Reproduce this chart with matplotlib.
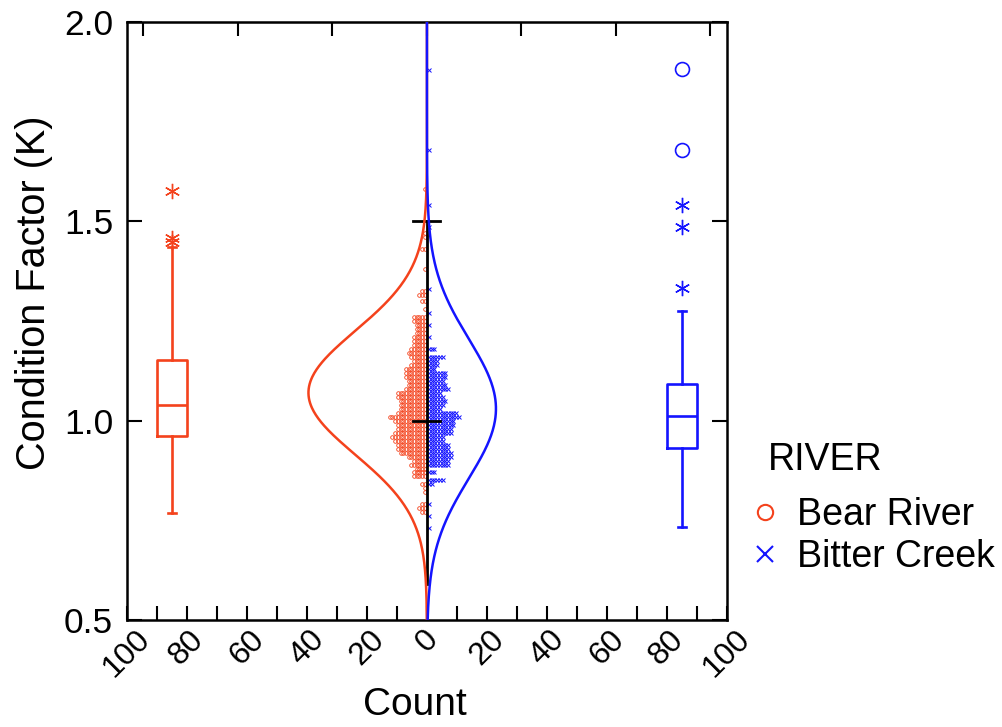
import numpy as np
import matplotlib.pyplot as plt
from matplotlib.lines import Line2D

plt.rcParams['font.family'] = ['Liberation Sans', 'DejaVu Sans']

RED = '#f4421c'
BLUE = '#1414ff'

# dot histogram rows: condition factor (K) and number of fish in that row
bear_k = [1.58, 1.47, 1.46, 1.43, 1.38, 1.325, 1.315, 1.30, 1.28, 1.26, 1.25, 1.24,
          1.23, 1.22, 1.21, 1.20, 1.19, 1.18, 1.17, 1.16, 1.15, 1.14, 1.13, 1.12,
          1.11, 1.10, 1.09, 1.08, 1.07, 1.06, 1.05, 1.04, 1.03, 1.02, 1.01, 1.00,
          0.99, 0.98, 0.97, 0.96, 0.95, 0.94, 0.93, 0.92, 0.91, 0.90, 0.89, 0.88,
          0.87, 0.86, 0.84, 0.83, 0.82, 0.79, 0.78, 0.77]
bear_n = [1, 1, 1, 2, 1, 2, 3, 2, 1, 5, 5, 4,
          4, 4, 5, 5, 5, 6, 7, 6, 5, 6, 8, 8,
          8, 7, 7, 8, 11, 11, 10, 10, 10, 11, 14, 12,
          11, 11, 12, 13, 12, 11, 11, 10, 7, 5, 6, 4,
          5, 5, 2, 1, 1, 2, 3, 2]

bitter_k = [1.88, 1.68, 1.54, 1.485, 1.33, 1.27, 1.24, 1.21, 1.18, 1.16, 1.15, 1.14,
            1.13, 1.12, 1.11, 1.10, 1.09, 1.08, 1.07, 1.06, 1.05, 1.04, 1.03, 1.02,
            1.01, 1.00, 0.99, 0.98, 0.97, 0.96, 0.95, 0.94, 0.93, 0.92, 0.91, 0.90,
            0.89, 0.87, 0.85, 0.84, 0.79, 0.76, 0.73]
bitter_n = [1, 1, 1, 1, 1, 1, 1, 1, 3, 6, 4, 4,
            3, 7, 7, 6, 7, 8, 5, 6, 7, 6, 5, 11,
            12, 10, 10, 9, 9, 6, 6, 8, 8, 9, 9, 8,
            8, 3, 6, 2, 1, 1, 1]

# fitted normal curves: mean, sd, peak count
bear_fit = (1.07, 0.155, 39.5)
bitter_fit = (1.03, 0.175, 23.0)

# box plot summaries
bear_box = dict(med=1.039, q1=0.962, q3=1.152, whislo=0.768, whishi=1.436,
                fliers=[1.448, 1.458, 1.576])
bitter_box = dict(med=1.012, q1=0.932, q3=1.092, whislo=0.733, whishi=1.275,
                  fliers=[1.333, 1.486, 1.541])
bitter_far = [1.679, 1.882]
box_pos = [-85, 85]

count_ticks = np.arange(-100, 101, 20)
count_minor = np.arange(-90, 91, 10)
top_ticks = [-94.5, -63, -31.5, 0, 31.5, 63, 94.5]
k_ticks = [0.5, 1.0, 1.5, 2.0]

fig = plt.figure(figsize=(10.02, 7.27), dpi=100)
ax = fig.add_axes([0.1267, 0.1472, 0.5988, 0.8225])

# dots
for ks, ns, sign, col, mk in [(bear_k, bear_n, -1, RED, 'o'), (bitter_k, bitter_n, 1, BLUE, 'x')]:
    xs, ys = [], []
    for k, n in zip(ks, ns):
        for j in range(n):
            xs.append(sign * (0.7 + 0.9 * j))
            ys.append(k)
    if mk == 'o':
        ax.plot(xs, ys, 'o', ms=2.6, mfc='none', mec=col, mew=0.6, zorder=2)
    else:
        ax.plot(xs, ys, 'x', ms=2.6, color=col, mew=0.7, zorder=2)

# center axis
ax.plot([0, 0], [0.59, 1.5], color='black', lw=2, zorder=3)
for k in [1.0, 1.5]:
    ax.plot([-4.5, 4.5], [k, k], color='black', lw=2, zorder=3)

# normal curves
yy = np.linspace(0.5, 2.0, 500)


def normal_curve(mu, sd, peak):
    return peak * np.exp(-0.5 * ((yy - mu) / sd) ** 2)


ax.plot(-normal_curve(*bear_fit), yy, color=RED, lw=1.8, zorder=4)
ax.plot(normal_curve(*bitter_fit), yy, color=BLUE, lw=1.8, zorder=5)

# box plots
for st, pos, col in [(bear_box, box_pos[0], RED), (bitter_box, box_pos[1], BLUE)]:
    lp = dict(color=col, lw=1.9)
    ax.bxp([st], positions=[pos], widths=10, capwidths=2.4, manage_ticks=False,
           boxprops=lp, whiskerprops=lp, capprops=lp, medianprops=lp,
           flierprops=dict(marker=(6, 2, 0), markeredgecolor=col, markersize=11,
                           markeredgewidth=1.0, linestyle='none'))
ax.plot([box_pos[1]] * len(bitter_far), bitter_far, 'o', ms=10, mfc='none',
        mec=BLUE, mew=1.2)

ax.set_xlim(-100, 100)
ax.set_ylim(0.5, 2.0)
ax.set_xticks(count_ticks)
ax.set_xticklabels([str(abs(int(v))) for v in count_ticks], rotation=45, fontsize=23)
ax.set_xticks(count_minor, minor=True)
ax.set_yticks(k_ticks)
ax.set_yticklabels(['%.1f' % v for v in k_ticks], fontsize=25.5)
ax.tick_params(axis='x', which='both', direction='in', length=10, width=1.5, pad=3)
ax.tick_params(axis='y', direction='in', length=11, width=1.5, right=True, pad=10)
for s in ax.spines.values():
    s.set_linewidth(1.8)

top = ax.secondary_xaxis('top')
top.set_xticks(top_ticks)
top.set_xticklabels([])
top.tick_params(direction='in', length=10, width=1.5)

ax.set_xlabel('Count', fontsize=28)
ax.xaxis.set_label_coords(0.48, -0.112)
ax.set_ylabel('Condition Factor (K)', fontsize=28.5)
ax.yaxis.set_label_coords(-0.123, 0.548)

fig.text(768 / 1002, 1 - 460 / 727, 'RIVER', fontsize=27, va='center', ha='left')
handles = [Line2D([], [], ls='none', marker='o', mfc='none', mec=RED, ms=11, mew=1.5,
                  label='Bear River'),
           Line2D([], [], ls='none', marker='x', color=BLUE, ms=11, mew=1.5,
                  label='Bitter Creek')]
fig.legend(handles=handles, loc='upper left', bbox_to_anchor=(750 / 1002, 1 - 497 / 727),
           frameon=False, fontsize=27, handlelength=0.8, handletextpad=0.45,
           labelspacing=0.15, borderpad=0, borderaxespad=0)

fig.savefig('out.png', dpi=100)
